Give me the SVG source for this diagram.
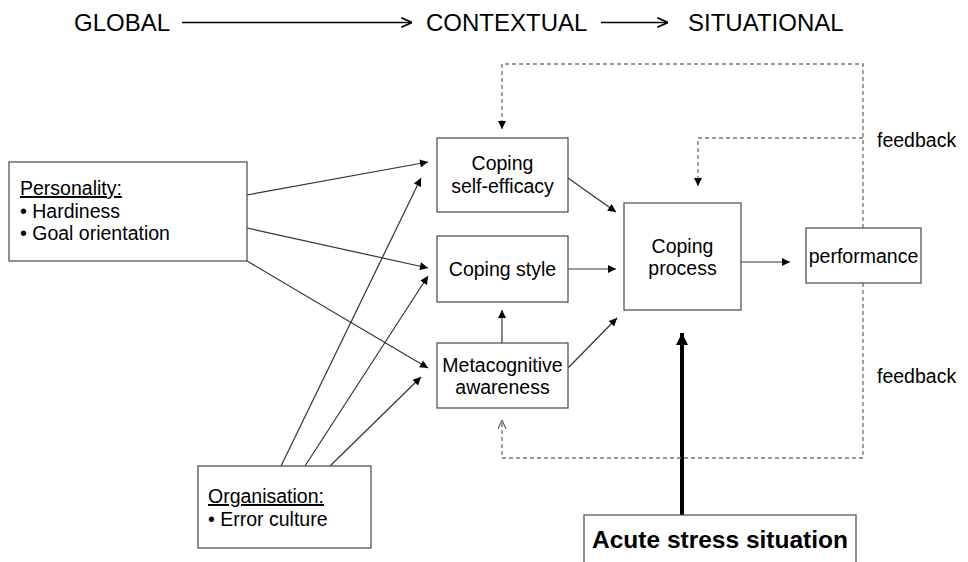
<svg xmlns="http://www.w3.org/2000/svg" width="968" height="562" viewBox="0 0 968 562">
  <style>
    text { font-family: "Liberation Sans", Arial, sans-serif; fill: #000; }
    .hdr { font-size: 24px; }
    .lbl { font-size: 19.5px; }
    .mid { text-anchor: middle; }
    .box { fill: #fff; stroke: #555; stroke-width: 1.3; }
    .ln { fill: none; stroke: #333; stroke-width: 1.2; }
    .dash { fill: none; stroke: #777; stroke-width: 1.4; stroke-dasharray: 4 3; }
    .thick { fill: none; stroke: #000; stroke-width: 4; }
  </style>
  <defs>
    <marker id="tri" viewBox="0 0 10 10" refX="10" refY="5" markerWidth="10" markerHeight="8" markerUnits="userSpaceOnUse" orient="auto">
      <path d="M0,0 L10,5 L0,10 Z" fill="#000"/>
    </marker>
    <marker id="open" viewBox="0 0 10 10" refX="10" refY="5" markerWidth="10" markerHeight="9" markerUnits="userSpaceOnUse" orient="auto">
      <path d="M0,0.5 L10,5 L0,9.5" fill="none" stroke="#555" stroke-width="1.2"/>
    </marker>
    <marker id="chev" viewBox="0 0 10 10" refX="10" refY="5" markerWidth="12" markerHeight="12" markerUnits="userSpaceOnUse" orient="auto">
      <path d="M1,1 L10,5 L1,9" fill="none" stroke="#000" stroke-width="1.4"/>
    </marker>
    <marker id="big" viewBox="0 0 10 10" refX="10" refY="5" markerWidth="14" markerHeight="12" markerUnits="userSpaceOnUse" orient="auto">
      <path d="M0,0 L10,5 L0,10 Z" fill="#000"/>
    </marker>
  </defs>

  <!-- level header -->
  <g id="header">
    <text class="hdr" x="74" y="31">GLOBAL</text>
    <line x1="182" y1="22.5" x2="412" y2="22.5" stroke="#000" stroke-width="1.6" marker-end="url(#chev)"/>
    <text class="hdr" x="426" y="31">CONTEXTUAL</text>
    <line x1="601" y1="22.5" x2="668" y2="22.5" stroke="#000" stroke-width="1.6" marker-end="url(#chev)"/>
    <text class="hdr" x="688" y="31">SITUATIONAL</text>
  </g>

  <!-- connectors -->
  <g id="connectors">
    <line class="ln" x1="247" y1="195" x2="428" y2="162" marker-end="url(#tri)"/>
    <line class="ln" x1="247" y1="228" x2="428" y2="268" marker-end="url(#tri)"/>
    <line class="ln" x1="247" y1="261" x2="428" y2="368" marker-end="url(#tri)"/>
    <line class="ln" x1="281" y1="466" x2="421" y2="178" marker-end="url(#tri)"/>
    <line class="ln" x1="305" y1="466" x2="428" y2="276" marker-end="url(#tri)"/>
    <line class="ln" x1="330" y1="466" x2="421" y2="377" marker-end="url(#tri)"/>
    <line class="ln" x1="568" y1="178" x2="616" y2="212" marker-end="url(#tri)"/>
    <line class="ln" x1="568" y1="269" x2="616" y2="269" marker-end="url(#tri)"/>
    <line class="ln" x1="568" y1="368" x2="617" y2="318" marker-end="url(#tri)"/>
    <line class="ln" x1="502" y1="343" x2="502" y2="310" marker-end="url(#tri)"/>
    <line class="ln" x1="741" y1="262" x2="790" y2="262" marker-end="url(#tri)"/>
    <line class="thick" x1="682" y1="515" x2="682" y2="333" marker-end="url(#big)"/>
    <!-- feedback loops -->
    <polyline class="dash" points="863,228 863,64 502,64 502,129" marker-end="url(#tri)"/>
    <polyline class="dash" points="863,138 698,138 698,186" marker-end="url(#tri)"/>
    <polyline class="dash" points="863,283 863,458 502,458 502,420" marker-end="url(#open)"/>
  </g>

  <g id="personality">
    <rect class="box" x="9" y="162" width="238" height="99"/>
    <text class="lbl" x="20" y="195" text-decoration="underline">Personality:</text>
    <text class="lbl" x="20" y="217.5">• Hardiness</text>
    <text class="lbl" x="20" y="240">• Goal orientation</text>
  </g>

  <g id="organisation">
    <rect class="box" x="198" y="466" width="173" height="82"/>
    <text class="lbl" x="208" y="503" text-decoration="underline">Organisation:</text>
    <text class="lbl" x="208" y="526">• Error culture</text>
  </g>

  <g id="self-efficacy">
    <rect class="box" x="437" y="138" width="131" height="74"/>
    <text class="lbl mid" x="502.5" y="170">Coping</text>
    <text class="lbl mid" x="502.5" y="192.5">self-efficacy</text>
  </g>

  <g id="coping-style">
    <rect class="box" x="437" y="236" width="131" height="66"/>
    <text class="lbl mid" x="502.5" y="276">Coping style</text>
  </g>

  <g id="metacognitive">
    <rect class="box" x="437" y="343" width="131" height="65"/>
    <text class="lbl mid" x="502.5" y="371.5">Metacognitive</text>
    <text class="lbl mid" x="502.5" y="393.5">awareness</text>
  </g>

  <g id="coping-process">
    <rect class="box" x="624" y="203" width="117" height="107"/>
    <text class="lbl mid" x="682.5" y="252.5">Coping</text>
    <text class="lbl mid" x="682.5" y="275">process</text>
  </g>

  <g id="performance">
    <rect class="box" x="806" y="228" width="115" height="55"/>
    <text class="lbl mid" x="863.5" y="262.5">performance</text>
  </g>

  <g id="feedback-labels">
    <text class="lbl" x="877" y="146.5">feedback</text>
    <text class="lbl" x="877" y="382.5">feedback</text>
  </g>

  <g id="acute-stress">
    <rect class="box" x="584" y="515" width="272" height="60"/>
    <text x="720" y="548" text-anchor="middle" font-size="24.5" font-weight="bold">Acute stress situation</text>
  </g>
</svg>
